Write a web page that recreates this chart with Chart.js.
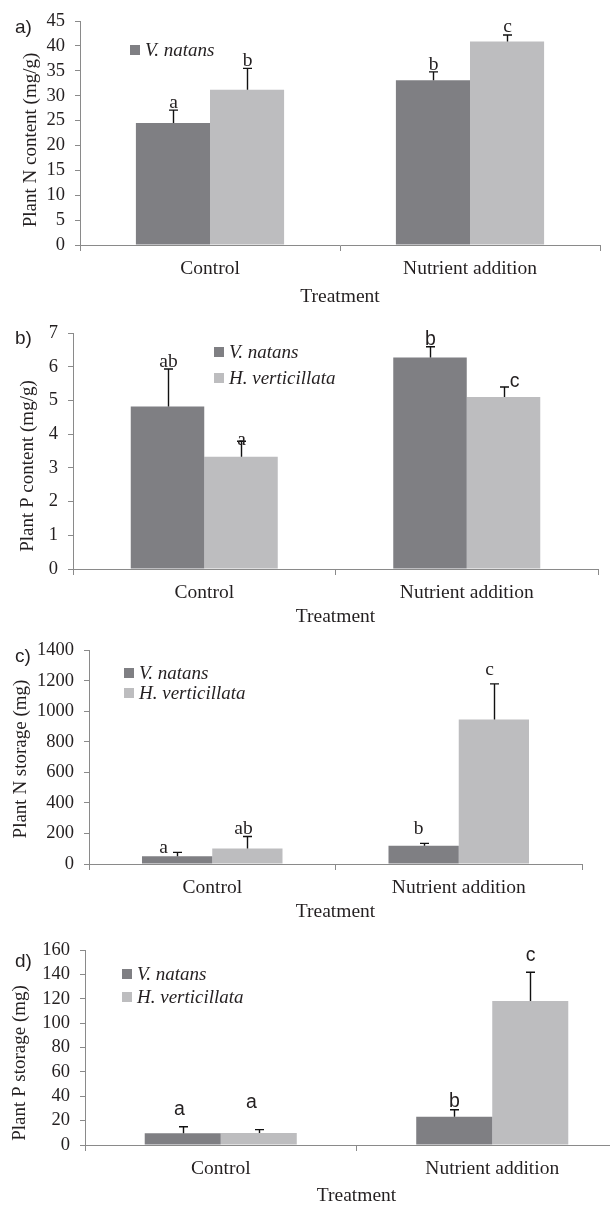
<!DOCTYPE html>
<html>
<head>
<meta charset="utf-8">
<script src="https://cdn.jsdelivr.net/npm/chart.js@4.4.1/dist/chart.umd.min.js"></script>
<style>
  html, body { margin: 0; padding: 0; background: #fff; }
  #page { position: relative; width: 610px; height: 1205px; overflow: hidden; }
  #page canvas { position: absolute; left: 0; }
</style>
</head>
<body>
<div id="page">
  <canvas id="chartA" width="640" height="310" style="top:0px"></canvas>
  <canvas id="chartB" width="640" height="319" style="top:310px"></canvas>
  <canvas id="chartC" width="640" height="295" style="top:629px"></canvas>
  <canvas id="chartD" width="640" height="284" style="top:924px"></canvas>
</div>
<script>
// Data
const categories = ['Control', 'Nutrient addition'];
const species = ['V. natans', 'H. verticillata'];

// a) Plant N content (mg/g)
const nContentV = [24.5, 33.1];
const nContentH = [31.2, 40.9];
const nContentErrV = [2.6, 1.7];
const nContentErrH = [4.3, 1.3];
const nContentLettersV = ['a', 'b'];
const nContentLettersH = ['b', 'c'];
const nContentTicks = { min: 0, max: 45, step: 5 };

// b) Plant P content (mg/g)
const pContentV = [4.82, 6.27];
const pContentH = [3.33, 5.10];
const pContentErrV = [1.11, 0.32];
const pContentErrH = [0.46, 0.30];
const pContentLettersV = ['ab', 'b'];
const pContentLettersH = ['a', 'c'];
const pContentTicks = { min: 0, max: 7, step: 1 };

// c) Plant N storage (mg)
const nStorageV = [50, 119];
const nStorageH = [102, 946];
const nStorageErrV = [26, 16];
const nStorageErrH = [78, 233];
const nStorageLettersV = ['a', 'b'];
const nStorageLettersH = ['ab', 'c'];
const nStorageTicks = { min: 0, max: 1400, step: 200 };

// d) Plant P storage (mg)
const pStorageV = [9.6, 23.2];
const pStorageH = [9.8, 118.2];
const pStorageErrV = [5.4, 5.7];
const pStorageErrH = [2.8, 23.5];
const pStorageLettersV = ['a', 'b'];
const pStorageLettersH = ['a', 'c'];
const pStorageTicks = { min: 0, max: 160, step: 20 };

// Styles
const DARK = '#7f7f83';
const LIGHT = '#bdbdbf';
const AXIS = '#8a8a8a';
const TEXT = '#231f20';
const SERIF = '"Liberation Serif", "Times New Roman", serif';
const SANS = '"Liberation Sans", Arial, sans-serif';
const FS = 19.5;

// Overlay: error bars, significance letters, legend, y title, panel label
function makeOverlay(cfg) {
    return {
        id: 'overlay',
        afterDatasetsDraw(chart) {
            const ctx = chart.ctx;
            const yScale = chart.scales.y;
            ctx.save();
            cfg.series.forEach((s, i) => {
                const meta = chart.getDatasetMeta(i);
                meta.data.forEach((bar, j) => {
                    const x = Math.round(bar.x) + 0.5;
                    const yTop = yScale.getPixelForValue(s.values[j] + s.errors[j]);
                    const yBar = yScale.getPixelForValue(s.values[j]);
                    ctx.strokeStyle = '#111';
                    ctx.lineWidth = 1.4;
                    ctx.beginPath();
                    ctx.moveTo(x, yBar);
                    ctx.lineTo(x, yTop);
                    ctx.moveTo(x - 4.5, yTop);
                    ctx.lineTo(x + 4.5, yTop);
                    ctx.stroke();

                    const shift = cfg.letterShift[i][j];
                    ctx.fillStyle = TEXT;
                    ctx.font = FS + 'px ' + (cfg.letterSans[i][j] ? SANS : SERIF);
                    ctx.textAlign = 'center';
                    ctx.textBaseline = 'alphabetic';
                    ctx.fillText(s.letters[j], x + shift[0], yTop + shift[1]);
                });
            });

            // legend
            const lg = cfg.legend;
            species.slice(0, lg.count).forEach((name, i) => {
                const cy = lg.y + i * lg.gap;
                ctx.fillStyle = i === 0 ? DARK : LIGHT;
                ctx.fillRect(lg.x, cy - 5, 10, 10);
                ctx.fillStyle = TEXT;
                ctx.font = 'italic 19px ' + SERIF;
                ctx.textAlign = 'left';
                ctx.textBaseline = 'middle';
                ctx.fillText(name, lg.x + 15, cy + 1);
            });

            // y axis title
            ctx.save();
            ctx.translate(cfg.yTitlePos[0], cfg.yTitlePos[1]);
            ctx.rotate(-Math.PI / 2);
            ctx.fillStyle = TEXT;
            ctx.font = '19px ' + SERIF;
            ctx.textAlign = 'center';
            ctx.textBaseline = 'middle';
            ctx.fillText(cfg.yTitle, 0, 0);
            ctx.restore();

            // panel label
            ctx.fillStyle = TEXT;
            ctx.font = '19px ' + SANS;
            ctx.textAlign = 'left';
            ctx.textBaseline = 'middle';
            ctx.fillText(cfg.panelLabel.text, cfg.panelLabel.x, cfg.panelLabel.y);
            ctx.restore();
        }
    };
}

function makePanel(canvasId, cfg) {
    const ctx = document.getElementById(canvasId).getContext('2d');
    const box = cfg.box;
    return new Chart(ctx, {
        type: 'bar',
        data: {
            labels: categories,
            datasets: cfg.series.map((s, i) => ({
                label: species[i],
                data: s.values,
                backgroundColor: i === 0 ? DARK : LIGHT,
                borderWidth: 0,
                categoryPercentage: cfg.catPct,
                barPercentage: 1.0
            }))
        },
        options: {
            responsive: false,
            animation: false,
            devicePixelRatio: 1,
            layout: {
                autoPadding: false,
                padding: { left: 0, top: box.top, right: box.right, bottom: 0 }
            },
            plugins: {
                legend: { display: false },
                tooltip: { enabled: false }
            },
            scales: {
                x: {
                    grid: {
                        display: true,
                        drawOnChartArea: false,
                        offset: true,
                        tickLength: 6,
                        tickColor: AXIS
                    },
                    border: { color: AXIS, width: 1 },
                    ticks: {
                        color: TEXT,
                        font: { family: SERIF, size: FS },
                        padding: box.tickPad,
                        maxRotation: 0
                    },
                    title: {
                        display: true,
                        text: 'Treatment',
                        color: TEXT,
                        font: { family: SERIF, size: FS },
                        padding: { top: 0, bottom: box.titlePad }
                    },
                    afterFit: scale => { scale.height = box.xAxisH; }
                },
                y: {
                    min: cfg.ticks.min,
                    max: cfg.ticks.max,
                    grid: {
                        display: true,
                        drawOnChartArea: false,
                        tickLength: 5,
                        tickColor: AXIS
                    },
                    border: { color: AXIS, width: 1 },
                    ticks: {
                        stepSize: cfg.ticks.step,
                        autoSkip: false,
                        color: TEXT,
                        font: { family: SERIF, size: 18.5 },
                        padding: 10,
                        callback: value => String(value)
                    },
                    title: { display: false },
                    afterFit: scale => { scale.width = box.left; }
                }
            }
        },
        plugins: [makeOverlay(cfg)]
    });
}

makePanel('chartA', {
    yTitle: 'Plant N content (mg/g)',
    yTitlePos: [31, 140],
    ticks: nContentTicks,
    catPct: 0.57,
    series: [
        { values: nContentV, errors: nContentErrV, letters: nContentLettersV },
        { values: nContentH, errors: nContentErrH, letters: nContentLettersH }
    ],
    box: { left: 80, top: 20, right: 40, xAxisH: 65, tickPad: 6, titlePad: 1 },
    legend: { x: 130, y: 50, gap: 26, count: 1 },
    panelLabel: { text: 'a)', x: 15, y: 28 },
    letterShift: [[[0, -2], [0, -2]], [[0, -2], [0, -3]]],
    letterSans: [[false, false], [false, false]]
});

makePanel('chartB', {
    yTitle: 'Plant P content (mg/g)',
    yTitlePos: [28, 156],
    ticks: pContentTicks,
    catPct: 0.56,
    series: [
        { values: pContentV, errors: pContentErrV, letters: pContentLettersV },
        { values: pContentH, errors: pContentErrH, letters: pContentLettersH }
    ],
    box: { left: 73, top: 23, right: 42, xAxisH: 60, tickPad: 6, titlePad: 0 },
    legend: { x: 214, y: 42, gap: 26, count: 2 },
    panelLabel: { text: 'b)', x: 15, y: 29 },
    letterShift: [[[0, -2], [0, -2]], [[0, 4], [10, 0]]],
    letterSans: [[false, true], [false, true]]
});

makePanel('chartC', {
    yTitle: 'Plant N storage (mg)',
    yTitlePos: [21, 130],
    ticks: nStorageTicks,
    catPct: 0.57,
    series: [
        { values: nStorageV, errors: nStorageErrV, letters: nStorageLettersV },
        { values: nStorageH, errors: nStorageErrH, letters: nStorageLettersH }
    ],
    box: { left: 89, top: 20, right: 58, xAxisH: 60, tickPad: 6, titlePad: 0 },
    legend: { x: 124, y: 44, gap: 20, count: 2 },
    panelLabel: { text: 'c)', x: 15, y: 28 },
    letterShift: [[[-14, 1], [-6, -9]], [[-4, -2], [-5, -9]]],
    letterSans: [[false, false], [false, false]]
});

makePanel('chartD', {
    yTitle: 'Plant P storage (mg)',
    yTitlePos: [20, 139],
    ticks: pStorageTicks,
    catPct: 0.56,
    series: [
        { values: pStorageV, errors: pStorageErrV, letters: pStorageLettersV },
        { values: pStorageH, errors: pStorageErrH, letters: pStorageLettersH }
    ],
    box: { left: 85, top: 26, right: 12, xAxisH: 63, tickPad: 6, titlePad: 0 },
    legend: { x: 122, y: 50, gap: 23, count: 2 },
    panelLabel: { text: 'd)', x: 15, y: 38 },
    letterShift: [[[-4, -12], [0, -3]], [[-8, -22], [0, -11]]],
    letterSans: [[true, true], [true, true]]
});
</script>
</body>
</html>
